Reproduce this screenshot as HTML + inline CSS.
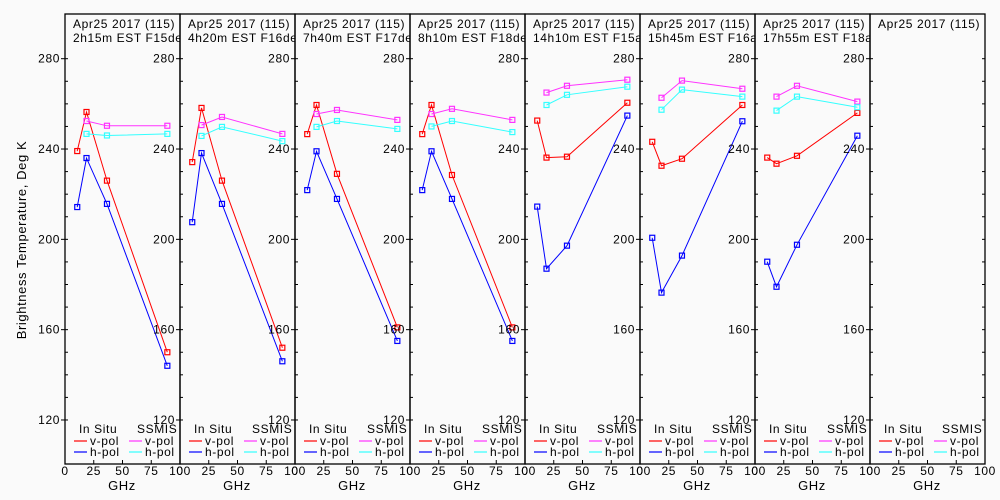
<!DOCTYPE html>
<html><head><meta charset="utf-8">
<style>
html,body{margin:0;padding:0;background:#fafafa;}
svg{display:block;font-family:"Liberation Sans",sans-serif;}
text{font-size:12px;fill:#000;letter-spacing:0.6px;}
</style></head>
<body>
<svg id="chart" width="1000" height="500" viewBox="0 0 1000 500">
<rect x="0" y="0" width="1000" height="500" fill="#fafafa"/>
<text transform="translate(26,240) rotate(-90)" text-anchor="middle" style="font-size:13px">Brightness Temperature, Deg K</text>
</svg>
<script>
const freqs = [10.65, 18.7, 36.5, 89];
const ssmisFreqs = [18.7, 36.5, 89];
const panelTitles = ["2h15m EST F15des","4h20m EST F16des","7h40m EST F17des","8h10m EST F18des","14h10m EST F15asc","15h45m EST F16asc","17h55m EST F18asc",""];
const insituV = [[239.1,256.4,226,150],[234.2,258.2,226,152],[246.6,259.5,229,161],[246.6,259.5,228.5,161],[252.6,236.2,236.6,260.5],[243.2,232.6,235.7,259.5],[236.2,233.5,237,256],[]];
const insituH = [[214.3,236,215.7,144],[207.6,238.2,215.7,146],[221.8,239,217.9,155],[221.8,239,217.9,155],[214.5,187,197.2,254.8],[200.7,176.4,192.8,252.3],[190.1,179,197.6,245.9],[]];
const ssmisV = [[252.4,250.3,250.3],[250.6,254.2,246.7],[255.5,257.3,252.9],[255.5,257.8,252.9],[265,268,270.7],[262.7,270.3,266.7],[263.2,268,261],[]];
const ssmisH = [[246.7,246,246.7],[245.8,249.8,243.5],[249.8,252.4,248.9],[250,252.4,247.5],[259.5,264,267.6],[257.4,266.3,263.2],[257,263.2,258.5],[]];
const yTicks = [120,160,200,240,280];
const xTicks = [0,25,50,75,100];

const NS="http://www.w3.org/2000/svg";
const svg=document.getElementById('chart');
const P0=65, PW=115, TOP=14, BOT=464;
function yS(v){return 58.7+(280-v)*2.258;}
function xS(p,f){return P0+p*PW+f*1.15;}
function mk(tag,attrs,parent){const e=document.createElementNS(NS,tag);for(const k in attrs)e.setAttribute(k,attrs[k]);(parent||svg).appendChild(e);return e;}

for(let p=0;p<8;p++){
  const L=P0+p*PW, R=L+PW;
  const g=mk('g',{});
  
  
  const cp=mk('clipPath',{id:'cp'+p},g);
  mk('rect',{x:L,y:0,width:PW,height:60},cp);
  const frame=mk('rect',{x:L,y:TOP,width:PW,height:BOT-TOP,fill:'none',stroke:'#000','stroke-width':1.3},g);
  
  
  const t1=mk('text',{x:L+8,y:28,'clip-path':'url(#cp'+p+')'},g);t1.textContent='Apr25 2017 (115)';
  
  
  const t2=mk('text',{x:L+8,y:42,'clip-path':'url(#cp'+p+')'},g);t2.textContent=panelTitles[p];
  
  
  for(let v=120;v<=280;v+=10){
    const y=yS(v), major=yTicks.includes(v);
    mk('line',{x1:major?L-4:L,x2:L+3,y1:y,y2:y,stroke:'#000'},g);
    if(p===7) mk('line',{x1:R-3,x2:R,y1:y,y2:y,stroke:'#000'},g);
  }
  yTicks.forEach(v=>{
    const t=mk('text',{x:L-5,y:yS(v)+4,'text-anchor':'end'},g);t.textContent=v;
    
    
  });
  xTicks.forEach(f=>{
    const x=xS(p,f);
    mk('line',{x1:x,x2:x,y1:BOT,y2:BOT-4,stroke:'#000'},g);
    const t=mk('text',{x:x,y:475,'text-anchor':'middle'},g);t.textContent=f;
    
    
  });
  const gx=mk('text',{x:L+57,y:490,'text-anchor':'middle',style:'font-size:13px'},g);gx.textContent='GHz';
  
  
  const series=[[insituV[p],freqs,'#ff0000','insitu-v-pol'],[insituH[p],freqs,'#0000ff','insitu-h-pol'],[ssmisV[p],ssmisFreqs,'#ff33ff','ssmis-v-pol'],[ssmisH[p],ssmisFreqs,'#33ffff','ssmis-h-pol']];
  series.forEach(([vals,fs,col,nm])=>{
    if(!vals.length)return;
    const pts=vals.map((v,i)=>xS(p,fs[i]).toFixed(1)+','+yS(v).toFixed(1)).join(' ');
    const pl=mk('polyline',{points:pts,fill:'none',stroke:col,'stroke-width':1},g);
    
    
    vals.forEach((v,i)=>{
      const m=mk('rect',{x:xS(p,fs[i])-2.5,y:yS(v)-2.5,width:5,height:5,fill:'none',stroke:col,'stroke-width':1.2},g);
      
      
    });
  });
  const lg=mk('g',{},g);
  
  
  let t=mk('text',{x:L+14,y:433},lg);t.textContent='In Situ';
  t=mk('text',{x:L+72,y:433},lg);t.textContent='SSMIS';
  [[L+9,'#ff0000','v-pol',442],[L+9,'#0000ff','h-pol',453],[L+64,'#ff33ff','v-pol',442],[L+64,'#33ffff','h-pol',453]].forEach(([x,c,lbl,y])=>{
    const e=mk('line',{x1:x,x2:x+13,y1:y-1,y2:y-1,stroke:c,'stroke-width':1.2},lg);
    
    
    const tt=mk('text',{x:x+16,y:y+3},lg);tt.textContent=lbl;
  });
}
</script>
</body></html>
